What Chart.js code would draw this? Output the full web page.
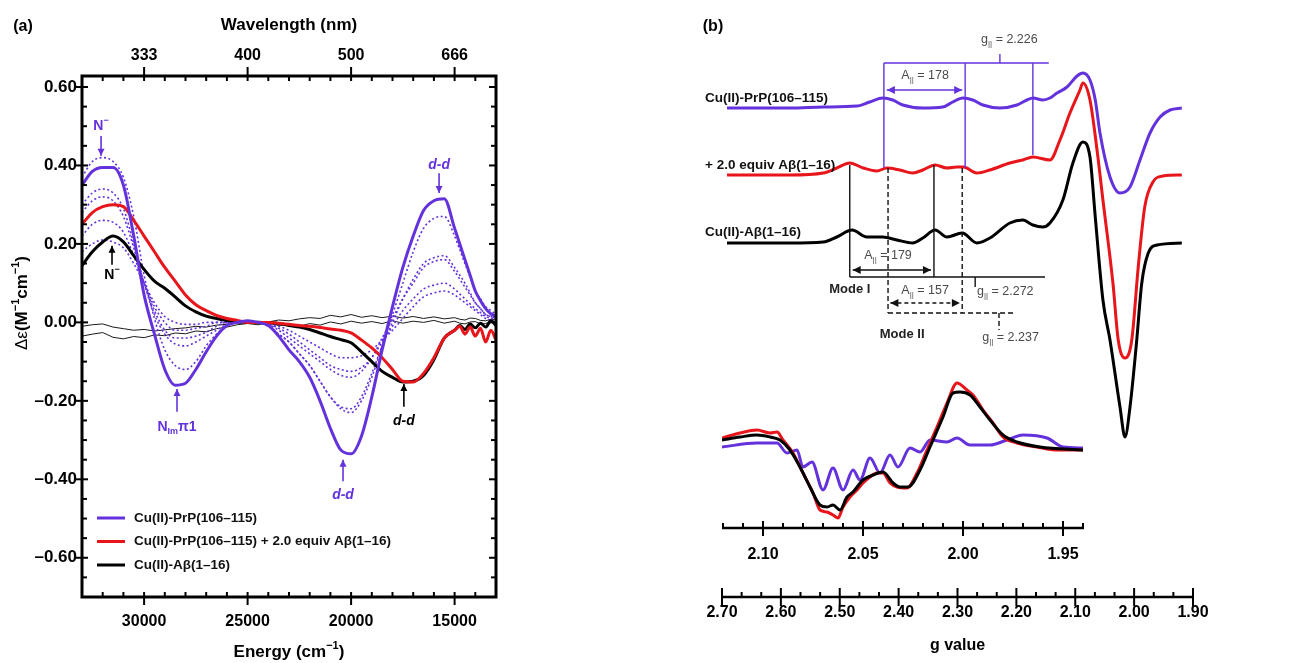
<!DOCTYPE html>
<html>
<head>
<meta charset="utf-8">
<title>CD and EPR spectra</title>
<script src="https://cdn.jsdelivr.net/npm/chart.js@4.4.1/dist/chart.umd.min.js"></script>
<style>
  html, body { margin: 0; padding: 0; background: #fff; }
  body { width: 1297px; height: 663px; position: relative; overflow: hidden; }
  canvas { position: absolute; top: 0; }
  #cd { left: 0; }
  #epr { left: 660px; }
</style>
</head>
<body>
<canvas id="cd" width="660" height="663"></canvas>
<canvas id="epr" width="637" height="663"></canvas>
<script>
const FONT = '"Liberation Sans", Arial, Helvetica, sans-serif'
const PURPLE = '#6432dc'
const RED = '#e8151b'
const BLACK = '#000000'

Chart.defaults.font.family = FONT
Chart.defaults.color = '#000'

// === (a) CD spectra, energy in cm-1 === //
const energy = [33000, 32500, 32000, 31500, 31000, 30500, 30000, 29500, 29000, 28500, 28000, 27500, 27000, 26500, 26000, 25500, 25000, 24500, 24000, 23500, 23000, 22500, 22000, 21500, 21000, 20500, 20000, 19500, 19000, 18500, 18000, 17500, 17000, 16500, 16000, 15500, 15000, 14750, 14500, 14250, 14000, 13750, 13500, 13250, 13000]
const cdPrP = [0.35, 0.385, 0.395, 0.395, 0.35, 0.22, 0.07, -0.03, -0.12, -0.16, -0.155, -0.12, -0.075, -0.035, -0.008, 0.0, 0.004, 0.0, -0.008, -0.035, -0.07, -0.10, -0.14, -0.20, -0.27, -0.325, -0.335, -0.29, -0.19, -0.07, 0.04, 0.14, 0.22, 0.285, 0.31, 0.315, 0.24, 0.20, 0.16, 0.12, 0.08, 0.055, 0.035, 0.022, 0.015]
const cdMix = [0.25, 0.28, 0.295, 0.30, 0.295, 0.26, 0.22, 0.18, 0.14, 0.105, 0.07, 0.045, 0.03, 0.018, 0.01, 0.005, 0.0, 0.0, 0.0, -0.002, -0.005, -0.008, -0.01, -0.013, -0.017, -0.02, -0.027, -0.045, -0.065, -0.09, -0.12, -0.15, -0.152, -0.13, -0.09, -0.04, -0.02, -0.01, -0.03, -0.012, -0.035, -0.015, -0.05, -0.02, -0.045]
const cdAb = [0.145, 0.18, 0.205, 0.22, 0.205, 0.17, 0.135, 0.105, 0.087, 0.065, 0.042, 0.027, 0.016, 0.01, 0.005, 0.002, 0, 0, 0, -0.003, -0.008, -0.012, -0.018, -0.027, -0.036, -0.044, -0.052, -0.075, -0.10, -0.125, -0.14, -0.152, -0.15, -0.135, -0.095, -0.04, -0.02, -0.008, -0.018, -0.004, -0.014, -0.002, -0.012, 0.004, -0.008]
// intermediate titration points (dotted)
const cdStep1 = [0.37, 0.41, 0.42, 0.41, 0.37, 0.27, 0.12, 0.01, -0.07, -0.11, -0.12, -0.10, -0.06, -0.03, -0.01, 0, 0, 0, -0.01, -0.03, -0.05, -0.08, -0.11, -0.15, -0.19, -0.22, -0.23, -0.20, -0.14, -0.06, 0.02, 0.10, 0.18, 0.24, 0.265, 0.27, 0.22, 0.185, 0.15, 0.115, 0.08, 0.06, 0.04, 0.03, 0.02]
const cdStep2 = [0.30, 0.33, 0.34, 0.33, 0.29, 0.20, 0.10, 0.02, -0.03, -0.055, -0.06, -0.05, -0.035, -0.02, -0.005, 0, 0, 0, -0.01, -0.03, -0.05, -0.08, -0.11, -0.15, -0.19, -0.215, -0.22, -0.19, -0.13, -0.06, 0.0, 0.06, 0.11, 0.15, 0.165, 0.17, 0.14, 0.12, 0.10, 0.075, 0.05, 0.035, 0.02, 0.015, 0.01]
const cdStep3 = [0.28, 0.31, 0.32, 0.31, 0.27, 0.19, 0.10, 0.03, -0.02, -0.04, -0.04, -0.035, -0.025, -0.01, 0, 0, 0, 0, -0.005, -0.02, -0.04, -0.06, -0.08, -0.10, -0.12, -0.135, -0.14, -0.125, -0.09, -0.04, 0.01, 0.06, 0.10, 0.14, 0.155, 0.16, 0.13, 0.11, 0.09, 0.07, 0.05, 0.035, 0.02, 0.015, 0.01]
const cdStep4 = [0.22, 0.25, 0.26, 0.255, 0.23, 0.17, 0.10, 0.04, 0.0, -0.02, -0.02, -0.015, -0.01, 0, 0, 0, 0, 0, -0.005, -0.015, -0.03, -0.05, -0.07, -0.09, -0.11, -0.12, -0.125, -0.115, -0.09, -0.05, -0.01, 0.03, 0.06, 0.085, 0.095, 0.10, 0.085, 0.072, 0.06, 0.047, 0.035, 0.025, 0.015, 0.01, 0.005]
const cdStep5 = [0.18, 0.20, 0.21, 0.205, 0.19, 0.15, 0.10, 0.05, 0.015, 0, -0.005, -0.005, 0, 0, 0, 0, 0, 0, -0.005, -0.01, -0.02, -0.035, -0.05, -0.065, -0.08, -0.09, -0.09, -0.085, -0.07, -0.045, -0.02, 0.01, 0.04, 0.065, 0.075, 0.08, 0.07, 0.06, 0.05, 0.04, 0.03, 0.02, 0.01, 0.005, 0.0]
// apo / buffer traces (thin)
const cdBlank1 = [-0.010, -0.006, -0.004, -0.012, -0.016, -0.020, -0.018, -0.022, -0.019, -0.016, -0.014, -0.010, -0.012, -0.007, -0.005, -0.002, 0.000, 0.003, 0.001, 0.006, 0.004, 0.009, 0.012, 0.010, 0.018, 0.014, 0.020, 0.013, 0.017, 0.012, 0.016, 0.011, 0.015, 0.010, 0.014, 0.009, 0.012, 0.008, 0.006, 0.011, 0.010, 0.005, 0.004, 0.008, 0.006]
const cdBlank2 = [-0.035, -0.030, -0.026, -0.038, -0.042, -0.036, -0.039, -0.032, -0.034, -0.027, -0.029, -0.022, -0.024, -0.016, -0.012, -0.006, -0.003, -0.006, -0.002, -0.008, -0.004, -0.010, -0.003, -0.007, 0.001, -0.004, 0.003, -0.002, 0.002, -0.003, 0.004, -0.002, 0.003, 0.000, 0.005, -0.002, 0.003, -0.002, -0.004, 0.001, 0.002, -0.004, -0.003, 0.002, 0.000]

const energyTicks = [30000, 25000, 20000, 15000]
const cdTicks = [-0.6, -0.4, -0.2, 0, 0.2, 0.4, 0.6]
const cdLegend = ['Cu(II)-PrP(106–115)', 'Cu(II)-PrP(106–115) + 2.0 equiv Aβ(1–16)', 'Cu(II)-Aβ(1–16)']
const cdLegendColors = [PURPLE, RED, BLACK]

// band labels: energy, label value, arrow tail, arrow tip
const cdNotes = [
  {parts: [{t: 'N'}, {t: '−', sup: true}], color: PURPLE, e: 32080, at: 0.50, tail: 0.475, tip: 0.425},
  {parts: [{t: 'd-d', italic: true}], color: PURPLE, e: 15750, at: 0.40, tail: 0.38, tip: 0.33},
  {parts: [{t: 'N'}, {t: '−', sup: true}], color: BLACK, e: 31550, at: 0.12, tail: 0.147, tip: 0.195},
  {parts: [{t: 'N'}, {t: 'Im', sub: true}, {t: 'π1'}], color: PURPLE, e: 28410, at: -0.266, tail: -0.228, tip: -0.17},
  {parts: [{t: 'd-d', italic: true}], color: PURPLE, e: 20390, at: -0.44, tail: -0.405, tip: -0.35},
  {parts: [{t: 'd-d', italic: true}], color: BLACK, e: 17450, at: -0.253, tail: -0.215, tip: -0.157},
]

// === (b) EPR spectra, g value === //
const eprPrPG = [2.6915, 2.585, 2.528, 2.471, 2.449, 2.427, 2.41, 2.393, 2.359, 2.325, 2.308, 2.291, 2.274, 2.257, 2.228, 2.199, 2.182, 2.172, 2.155, 2.143, 2.131, 2.114, 2.097, 2.087, 2.075, 2.066, 2.058, 2.041, 2.024, 2.007, 1.99, 1.973, 1.956, 1.939, 1.919]
const eprPrP = [0, 0, 0.2, 0.4, 1.2, 2.0, 1.6, 0.6, 0, 0.2, 1.2, 2.0, 1.6, 0.6, 0, 0.6, 1.6, 2.0, 1.6, 2.0, 3.0, 4.2, 6.4, 7.0, 5.6, 1.6, -5.0, -13.8, -17.0, -15.8, -10.4, -5.0, -1.8, -0.4, 0]
const eprMixG = [2.6915, 2.585, 2.528, 2.505, 2.483, 2.46, 2.437, 2.42, 2.398, 2.376, 2.359, 2.338, 2.318, 2.301, 2.29, 2.267, 2.245, 2.211, 2.189, 2.172, 2.143, 2.126, 2.109, 2.092, 2.087, 2.075, 2.063, 2.053, 2.036, 2.027, 2.0155, 2.004, 1.993, 1.982, 1.968, 1.951, 1.919]
const eprMix = [0, 0, 0.4, 1.4, 2.4, 1.4, 0.8, 1.4, 1.0, 0.4, 1.0, 2.0, 1.4, 1.6, 1.6, 0.4, 1.0, 2.4, 3.0, 3.6, 3.0, 7.0, 12.4, 17.0, 18.4, 15.0, 5.0, -5.0, -21.6, -33.0, -36.6, -33.0, -18.4, -6.4, -1.4, -0.2, 0]
const eprAbG = [2.6915, 2.585, 2.528, 2.505, 2.479, 2.454, 2.427, 2.403, 2.376, 2.359, 2.338, 2.318, 2.292, 2.267, 2.245, 2.211, 2.189, 2.172, 2.155, 2.143, 2.121, 2.104, 2.087, 2.075, 2.066, 2.053, 2.041, 2.024, 2.0155, 2.007, 1.996, 1.987, 1.976, 1.961, 1.919]
const eprAb = [0, 0, 0.2, 1.2, 2.6, 1.2, 1.2, 0.6, 0, 1.0, 2.6, 1.2, 2.0, 0, 1.0, 4.0, 4.6, 3.6, 3.2, 4.0, 8.6, 16.0, 20.2, 17.2, 5.2, -11.4, -19.4, -32.8, -38.8, -32.8, -20.0, -8.0, -2.0, -0.4, 0]

// expanded g-perpendicular region
const insetPrPG = [2.1205, 2.103, 2.093, 2.088, 2.083, 2.08, 2.0755, 2.07, 2.065, 2.06, 2.055, 2.0515, 2.0465, 2.0415, 2.0365, 2.0325, 2.0265, 2.0215, 2.0165, 2.008, 2.003, 1.9965, 1.9865, 1.978, 1.97, 1.958, 1.95, 1.94]
const insetPrP = [0.6, 1.4, 1.4, -0.6, 0, -3.4, -2.4, -8.0, -3.6, -8.0, -4.0, -6.0, -1.6, -4.6, -1.0, -3.4, 0.4, -0.4, 2.0, 1.6, 2.4, 1.0, 1.0, 2.0, 3.0, 2.4, 0.6, 0.4]
const insetMixG = [2.1205, 2.1115, 2.103, 2.0965, 2.093, 2.09, 2.085, 2.08, 2.075, 2.0715, 2.068, 2.065, 2.0625, 2.06, 2.0565, 2.053, 2.05, 2.0465, 2.043, 2.04, 2.0365, 2.033, 2.028, 2.023, 2.018, 2.013, 2.008, 2.003, 1.998, 1.995, 1.99, 1.985, 1.98, 1.973, 1.963, 1.953, 1.94]
const insetMix = [2.4, 3.4, 4.0, 3.4, 3.6, 2.0, -0.6, -4.6, -8.6, -12.0, -12.4, -13.0, -13.6, -11.4, -9.4, -8.0, -6.6, -5.4, -4.6, -4.6, -6.6, -7.4, -7.6, -4.6, 0, 4.6, 9.4, 13.4, 12.0, 11.0, 8.0, 5.4, 2.6, 1.4, 0.6, 0, 0]
const insetAbG = [2.1205, 2.1115, 2.103, 2.0965, 2.0915, 2.0865, 2.0815, 2.0765, 2.0715, 2.068, 2.065, 2.0615, 2.058, 2.055, 2.05, 2.045, 2.04, 2.035, 2.0315, 2.0275, 2.0215, 2.0165, 2.01, 2.005, 2.0015, 1.9965, 1.9915, 1.9865, 1.98, 1.973, 1.9615, 1.94]
const insetAb = [2.0, 2.6, 3.0, 2.6, 2.0, 0, -3.4, -7.4, -11.0, -11.4, -11.0, -12.0, -9.4, -8.4, -6.0, -5.0, -4.4, -6.6, -7.4, -7.4, -4.0, 0.6, 6.6, 11.4, 11.6, 11.0, 8.6, 6.0, 3.0, 1.6, 0.6, 0]

// vertical stacking of the traces (arbitrary units)
const offsetPrP = 97.8
const offsetMix = 84.4
const offsetAb = 70.8
const offsetInset = 29.4
const insetAxisAt = 13.8

const gTicks = [2.7, 2.6, 2.5, 2.4, 2.3, 2.2, 2.1, 2.0, 1.9]
const insetTicks = [2.10, 2.05, 2.00, 1.95]
const insetRange = [2.1205, 1.9395]
const eprNames = ['Cu(II)-PrP(106–115)', '+ 2.0 equiv Aβ(1–16)', 'Cu(II)-Aβ(1–16)']

// === helpers === //
function pts(xs, ys, off) {
  return xs.map((x, i) => ({x: x, y: ys[i] + (off || 0)}))
}

function seg(ctx, x1, y1, x2, y2) {
  ctx.beginPath()
  ctx.moveTo(x1, y1)
  ctx.lineTo(x2, y2)
  ctx.stroke()
}

function richText(ctx, x, y, parts, size, align, color) {
  ctx.save()
  ctx.fillStyle = color || '#000'
  ctx.textBaseline = 'middle'
  ctx.textAlign = 'left'
  const runs = parts.map(p => {
    const small = p.sup || p.sub
    const s = small ? Math.round(size * 0.65) : size
    const font = (p.italic ? 'italic ' : '') + (p.light ? '' : 'bold ') + s + 'px ' + FONT
    ctx.font = font
    return {text: p.t, font: font, w: ctx.measureText(p.t).width, dy: p.sup ? -size * 0.38 : (p.sub ? size * 0.32 : 0)}
  })
  const total = runs.reduce((s, r) => s + r.w, 0)
  let cx = align === 'center' ? x - total / 2 : (align === 'right' ? x - total : x)
  runs.forEach(r => {
    ctx.font = r.font
    ctx.fillText(r.text, cx, y + r.dy)
    cx += r.w
  })
  ctx.restore()
}

function arrow(ctx, x1, y1, x2, y2, color, width, head, dashed, both) {
  ctx.save()
  ctx.strokeStyle = color
  ctx.fillStyle = color
  ctx.lineWidth = width
  if (dashed) ctx.setLineDash([4, 3])
  seg(ctx, x1, y1, x2, y2)
  ctx.setLineDash([])
  const heads = both ? [[x2, y2, x1, y1], [x1, y1, x2, y2]] : [[x2, y2, x1, y1]]
  heads.forEach(([tx, ty, fx, fy]) => {
    const a = Math.atan2(ty - fy, tx - fx)
    const c = Math.cos(a), s = Math.sin(a), w = head * 0.5
    ctx.beginPath()
    ctx.moveTo(tx, ty)
    ctx.lineTo(tx - head * c + w * s, ty - head * s - w * c)
    ctx.lineTo(tx - head * c - w * s, ty - head * s + w * c)
    ctx.closePath()
    ctx.fill()
  })
  ctx.restore()
}

// === (a) plugin: frame, ticks, labels, legend === //
const cdDecor = {
  id: 'cdDecor',
  afterDraw(chart) {
    const {ctx, chartArea: a, scales: {x, y}} = chart
    ctx.save()
    ctx.strokeStyle = '#000'
    ctx.lineWidth = 2
    for (let e = 14000; e <= 32000; e += 1000) {
      const px = x.getPixelForValue(e)
      const major = energyTicks.includes(e)
      seg(ctx, px, a.bottom + (major ? 8 : 0), px, a.bottom - 5)
      seg(ctx, px, a.top - (major ? 9 : 0), px, a.top + 5)
    }
    for (let k = -13; k <= 12; k++) {
      const py = y.getPixelForValue(k * 0.05)
      const major = k % 4 === 0
      seg(ctx, a.left - (major ? 6 : 0), py, a.left + (major ? 6 : 5), py)
      seg(ctx, a.right - (major ? 7 : 5), py, a.right, py)
    }
    ctx.lineWidth = 3
    ctx.strokeRect(a.left, a.top, a.right - a.left, a.bottom - a.top)

    cdNotes.forEach(n => {
      const px = x.getPixelForValue(n.e)
      arrow(ctx, px, y.getPixelForValue(n.tail), px, y.getPixelForValue(n.tip), n.color, 1.6, 7, false, false)
      richText(ctx, px, y.getPixelForValue(n.at), n.parts, 14, 'center', n.color)
    })

    cdLegend.forEach((name, i) => {
      const ly = 518 + i * 23.5
      ctx.strokeStyle = cdLegendColors[i]
      ctx.lineWidth = 3
      seg(ctx, 97, ly, 125, ly)
      richText(ctx, 134, ly, [{t: name}], 13.5, 'left', '#111')
    })

    richText(ctx, 23, 27, [{t: '(a)'}], 16, 'center')
    richText(ctx, (a.left + a.right) / 2, 652, [{t: 'Energy (cm'}, {t: '−1', sup: true}, {t: ')'}], 17, 'center')
    ctx.translate(22, 303)
    ctx.rotate(-Math.PI / 2)
    richText(ctx, 0, 0, [{t: 'Δε', light: true}, {t: '(M'}, {t: '−1', sup: true}, {t: 'cm'}, {t: '−1', sup: true}, {t: ')'}], 17, 'center')
    ctx.restore()
  }
}

const thick = (label, data, color) => ({label, data, borderColor: color, borderWidth: 3, cubicInterpolationMode: 'monotone'})
const dotted = (data) => ({data, borderColor: PURPLE, borderWidth: 1.6, borderDash: [2, 2.5], cubicInterpolationMode: 'monotone'})
const thin = (data) => ({data, borderColor: '#1a1a1a', borderWidth: 1, tension: 0})

new Chart(document.getElementById('cd'), {
  type: 'line',
  data: {
    datasets: [
      thick(cdLegend[0], pts(energy, cdPrP), PURPLE),
      thick(cdLegend[1], pts(energy, cdMix), RED),
      thick(cdLegend[2], pts(energy, cdAb), BLACK),
      dotted(pts(energy, cdStep1)),
      dotted(pts(energy, cdStep2)),
      dotted(pts(energy, cdStep3)),
      dotted(pts(energy, cdStep4)),
      dotted(pts(energy, cdStep5)),
      thin(pts(energy, cdBlank1)),
      thin(pts(energy, cdBlank2)),
    ]
  },
  options: {
    responsive: false,
    animation: false,
    devicePixelRatio: 1,
    layout: {padding: {left: 0, right: 164, top: 0, bottom: 0}},
    elements: {point: {radius: 0}},
    plugins: {legend: {display: false}, tooltip: {enabled: false}},
    scales: {
      x: {
        type: 'linear', position: 'bottom', min: 13000, max: 33000, reverse: true,
        grid: {display: false, drawTicks: false}, border: {display: false},
        afterBuildTicks: s => { s.ticks = energyTicks.map(v => ({value: v})) },
        ticks: {padding: 15, autoSkip: false, maxRotation: 0, font: {size: 16, weight: 'bold'}, callback: v => String(v)},
        afterFit: s => { s.height = 66 }
      },
      xTop: {
        type: 'linear', axis: 'x', position: 'top', min: 13000, max: 33000, reverse: true,
        grid: {display: false, drawTicks: false}, border: {display: false},
        afterBuildTicks: s => { s.ticks = energyTicks.map(v => ({value: v})) },
        ticks: {padding: 11, autoSkip: false, maxRotation: 0, font: {size: 16, weight: 'bold'}, callback: v => String(Math.floor(1e7 / v))},
        title: {display: true, text: 'Wavelength (nm)', font: {size: 17, weight: 'bold'}, padding: {top: 15, bottom: 0}},
        afterFit: s => { s.height = 76 }
      },
      y: {
        type: 'linear', min: -0.70, max: 0.628,
        grid: {display: false, drawTicks: false}, border: {display: false},
        afterBuildTicks: s => { s.ticks = cdTicks.map(v => ({value: v})) },
        ticks: {padding: 5, autoSkip: false, font: {size: 17, weight: 'bold'}, callback: v => (v < 0 ? '–' : '') + Math.abs(v).toFixed(2)},
        afterFit: s => { s.width = 82 }
      }
    }
  },
  plugins: [cdDecor]
})

// === (b) plugin: axes and hyperfine marks === //
const eprDecor = {
  id: 'eprDecor',
  afterDraw(chart) {
    const {ctx, chartArea: a, scales: {x, x2, y}} = chart
    const X = g => x.getPixelForValue(g)
    const Y = v => y.getPixelForValue(v)
    ctx.save()
    ctx.strokeStyle = '#000'

    // main g axis
    ctx.lineWidth = 2.5
    seg(ctx, a.left, a.bottom, a.right, a.bottom)
    ctx.lineWidth = 2
    gTicks.forEach(g => seg(ctx, X(g), a.bottom - 9, X(g), a.bottom + 9))
    for (let i = 0; i < gTicks.length - 1; i++) {
      for (let k = 1; k <= 2; k++) {
        const px = X(gTicks[i] - 0.1 * k / 3)
        seg(ctx, px, a.bottom - 5, px, a.bottom)
      }
    }

    // expanded axis
    const iy = Y(insetAxisAt)
    ctx.lineWidth = 2.5
    seg(ctx, x2.getPixelForValue(insetRange[0]), iy, x2.getPixelForValue(insetRange[1]), iy)
    ctx.lineWidth = 2
    for (let m = 212; m >= 194; m--) {
      const g = m / 100
      const px = x2.getPixelForValue(g)
      const major = insetTicks.some(t => Math.abs(t - g) < 1e-6)
      seg(ctx, px, iy - (major ? 7 : 5), px, iy + (major ? 8 : 0))
    }

    // trace names
    const names = [offsetPrP + 2, offsetMix + 2, offsetAb + 2.2]
    eprNames.forEach((n, i) => richText(ctx, 45, Y(names[i]), [{t: n}], 13.5, 'left', '#111'))
    richText(ctx, 53, 27, [{t: '(b)'}], 16, 'center')

    const gPar = v => [{t: 'g', light: true}, {t: '||', sub: true, light: true}, {t: ' = ' + v, light: true}]
    const aPar = v => [{t: 'A', light: true}, {t: '||', sub: true, light: true}, {t: ' = ' + v, light: true}]
    const grey = '#4a4a4a'

    // PrP hyperfine comb
    ctx.strokeStyle = PURPLE
    ctx.lineWidth = 1.4
    seg(ctx, X(2.425), Y(106.8), X(2.145), Y(106.8))
    seg(ctx, X(2.425), Y(106.8), X(2.425), Y(85.8))
    seg(ctx, X(2.287), Y(106.8), X(2.287), Y(85.8))
    seg(ctx, X(2.172), Y(106.8), X(2.172), Y(88.4))
    seg(ctx, X(2.228), Y(106.8), X(2.228), Y(108.6))
    arrow(ctx, X(2.42), Y(101.4), X(2.292), Y(101.4), PURPLE, 1.4, 8, false, true)
    richText(ctx, X(2.26), Y(111.4), gPar('2.226'), 12.5, 'left', grey)
    richText(ctx, X(2.355), Y(104.2), aPar('178'), 12.5, 'center', grey)

    // Mode I
    ctx.strokeStyle = '#111'
    ctx.lineWidth = 1.4
    seg(ctx, X(2.483), Y(86.4), X(2.483), Y(64))
    seg(ctx, X(2.34), Y(86.4), X(2.34), Y(64))
    seg(ctx, X(2.483), Y(64), X(2.1514), Y(64))
    seg(ctx, X(2.27), Y(64), X(2.27), Y(62))
    arrow(ctx, X(2.478), Y(65.4), X(2.345), Y(65.4), '#111', 1.4, 8, false, true)
    richText(ctx, X(2.418), Y(68.2), aPar('179'), 12.5, 'center', grey)
    richText(ctx, X(2.483), Y(61.6), [{t: 'Mode I'}], 13, 'center', '#222')
    richText(ctx, X(2.267), Y(61), gPar('2.272'), 12.5, 'left', grey)

    // Mode II
    ctx.setLineDash([5, 3])
    seg(ctx, X(2.418), Y(85.8), X(2.418), Y(56.8))
    seg(ctx, X(2.292), Y(85.8), X(2.292), Y(56.8))
    seg(ctx, X(2.418), Y(56.8), X(2.2023), Y(56.8))
    seg(ctx, X(2.2295), Y(56.8), X(2.2295), Y(53.4))
    ctx.setLineDash([])
    arrow(ctx, X(2.414), Y(58.8), X(2.296), Y(58.8), '#111', 1.4, 8, true, true)
    richText(ctx, X(2.355), Y(61.2), aPar('157'), 12.5, 'center', grey)
    richText(ctx, X(2.394), Y(52.6), [{t: 'Mode II'}], 13, 'center', '#222')
    richText(ctx, X(2.258), Y(51.8), gPar('2.237'), 12.5, 'left', grey)
    ctx.restore()
  }
}

const trace = (data, color, axis) => ({data, borderColor: color, borderWidth: 3, cubicInterpolationMode: 'monotone', xAxisID: axis || 'x'})

new Chart(document.getElementById('epr'), {
  type: 'line',
  data: {
    datasets: [
      trace(pts(eprMixG, eprMix, offsetMix), RED),
      trace(pts(eprPrPG, eprPrP, offsetPrP), PURPLE),
      trace(pts(eprAbG, eprAb, offsetAb), BLACK),
      trace(pts(insetAbG, insetAb, offsetInset), BLACK, 'x2'),
      trace(pts(insetMixG, insetMix, offsetInset), RED, 'x2'),
      trace(pts(insetPrPG, insetPrP, offsetInset), PURPLE, 'x2'),
    ]
  },
  options: {
    responsive: false,
    animation: false,
    devicePixelRatio: 1,
    layout: {padding: {left: 62, right: 104, top: 47, bottom: 0}},
    elements: {point: {radius: 0}},
    plugins: {legend: {display: false}, tooltip: {enabled: false}},
    scales: {
      x: {
        type: 'linear', position: 'bottom', min: 1.90, max: 2.70, reverse: true,
        grid: {display: false, drawTicks: false}, border: {display: false},
        afterBuildTicks: s => { s.ticks = gTicks.map(v => ({value: v})) },
        ticks: {padding: 6, autoSkip: false, maxRotation: 0, font: {size: 16, weight: 'bold'}, callback: v => v.toFixed(2)},
        title: {display: true, text: 'g value', font: {size: 16, weight: 'bold'}, padding: {top: 0, bottom: 8}},
        afterFit: s => { s.height = 66 }
      },
      x2: {
        type: 'linear', axis: 'x', position: {y: insetAxisAt}, min: 1.885, max: 2.1205, reverse: true,
        grid: {display: false, drawTicks: false}, border: {display: false},
        afterBuildTicks: s => { s.ticks = insetTicks.map(v => ({value: v})) },
        ticks: {padding: 17, autoSkip: false, maxRotation: 0, font: {size: 16, weight: 'bold'}, callback: v => v.toFixed(2)}
      },
      y: {type: 'linear', min: 0, max: 110, display: false}
    }
  },
  plugins: [eprDecor]
})
</script>
</body>
</html>
